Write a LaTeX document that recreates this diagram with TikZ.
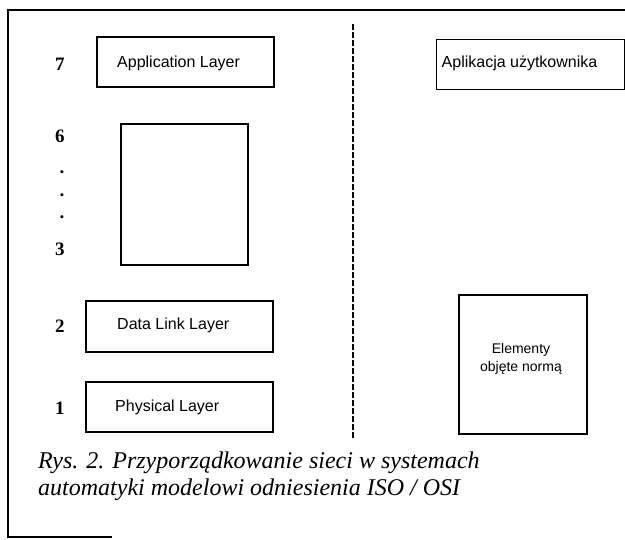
\documentclass[tikz,border=0pt]{standalone}
\usepackage{fontspec}
\setmainfont{Liberation Serif}
\setsansfont{Liberation Sans}
\begin{document}
\begin{tikzpicture}[x=1pt,y=-1pt,
  layerbox/.style={draw=black, line width=1.3pt, rectangle, inner sep=0pt},
  boxtext/.style={font=\sffamily\fontsize{16}{18}\selectfont, inner sep=0pt},
  numtext/.style={font=\rmfamily\fontsize{19}{21}\selectfont\bfseries, inner sep=0pt},
  frameline/.style={line width=1.1pt},
  divider/.style={line width=1.3pt, dash pattern=on 6pt off 2pt},
  captext/.style={font=\rmfamily\itshape\fontsize{24}{28}\selectfont, inner sep=0pt, anchor=west}
]
\useasboundingbox (0,0) rectangle (625,540);
% frame
\coordinate (fTL) at (8,10);
\coordinate (fTR) at (625,10);
\coordinate (fBL) at (8,537);
\coordinate (fBR) at (112,537);
\draw[frameline] (fTR) -- (fTL) -- (fBL) -- (fBR);
% divider
\coordinate (dTop) at (353,24);
\coordinate (dBot) at (353,438);
\draw[divider] (dTop) -- (dBot);
% layer numbers
\node[numtext] (n7) at (60,64) {7};
\node[numtext] (n6) at (60,136) {6};
\node[numtext] (d1) at (62,172) {.};
\node[numtext] (d2) at (62,195) {.};
\node[numtext] (d3) at (62,217) {.};
\node[numtext] (n3) at (60,249) {3};
\node[numtext] (n2) at (60,326) {2};
\node[numtext] (n1) at (60,408) {1};
% left boxes
\node[layerbox, minimum width=177pt, minimum height=50pt] (app) at (185.5,62) {};
\node[boxtext, anchor=west] (appt) at (117,63) {Application Layer};
\node[layerbox, minimum width=127pt, minimum height=141pt] (mid) at (184.5,194.5) {};
\node[layerbox, minimum width=187pt, minimum height=51pt] (dll) at (179.5,326.5) {};
\node[boxtext, anchor=west] (dllt) at (117,325) {Data Link Layer};
\node[layerbox, minimum width=187pt, minimum height=50pt] (phy) at (179.5,407) {};
\node[boxtext, anchor=west] (phyt) at (115,407) {Physical Layer};
% right boxes
\node[layerbox, minimum width=188pt, minimum height=50pt, anchor=north west] (apk) at (436,39) {};
\node[boxtext] (apkt) at (519.5,63) {Aplikacja użytkownika};
\node[layerbox, minimum width=128pt, minimum height=139pt] (elem) at (523,364.5) {};
\node[boxtext, align=center, font=\sffamily\fontsize{14}{18}\selectfont] (elemt) at (521,359) {Elementy\\objęte normą};
% caption
\node[captext] (cap1) at (38,463) {Rys. 2. Przyporządkowanie sieci w systemach};
\node[captext] (cap2) at (38,490) {automatyki modelowi odniesienia ISO / OSI};
\end{tikzpicture}
\end{document}
